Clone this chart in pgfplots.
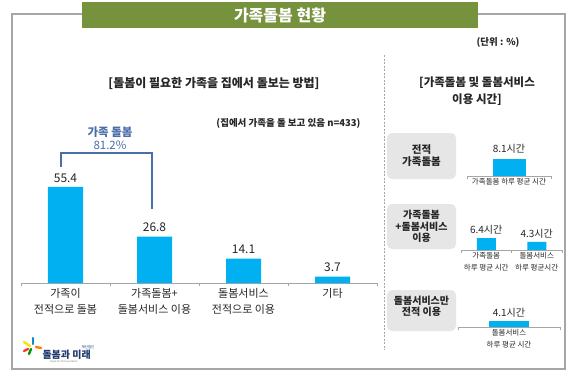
\documentclass[border=0pt]{standalone}
\usepackage{pgfplots}
\pgfplotsset{compat=1.18}
\usepackage{fontspec}
\setmainfont{Noto Sans CJK KR}
\definecolor{barblue}{HTML}{00B0F0}
\definecolor{olivegreen}{HTML}{76923C}
\definecolor{framegray}{HTML}{A6A6A6}
\definecolor{brk}{RGB}{74,110,168}
\definecolor{boxgray}{HTML}{E7E6E6}
\definecolor{txt}{HTML}{262626}
\definecolor{navy}{HTML}{1F3A6E}
\pgfplotsset{
  base/.style={scale only axis, anchor=south west, ybar, ymin=0,
    axis x line*=bottom, axis y line=none, axis line style={framegray, line width=0.8pt},
    major tick length=0pt, minor tick length=3pt, tick align=outside,
    minor x tick style={framegray, line width=0.8pt},
    clip=false, nodes near coords,
    /pgf/number format/fixed, /pgf/number format/precision=1,
    /pgf/number format/fixed zerofill, /pgf/number format/assume math mode=true},
  mini/.style={base, ymax=10,
    xticklabel style={align=center, font=\fontsize{7.5}{12}\selectfont, text=txt, yshift=1pt},
    nodes near coords={\pgfmathprintnumber{\pgfplotspointmeta}시간},
    every node near coord/.append style={font=\fontsize{10}{12}\selectfont, text=txt}}
}
\begin{document}
\begin{tikzpicture}[x=1pt,y=1pt]
\path[use as bounding box] (0,0) rectangle (567,376);
\fill[white] (0,0) rectangle (567,376);
\draw[framegray, line width=1.3pt] (12,362) rectangle (565,7);
\fill[olivegreen] (82,348) rectangle (478,374);
\node[text=white, font=\fontsize{16}{18}\selectfont\bfseries] at (280,361) {가족돌봄 현황};
\node[text=txt, font=\fontsize{9.5}{11}\selectfont\bfseries] at (498,334) {(단위 : \%)};
\draw[framegray, dash pattern=on 2pt off 1.5pt, line width=0.6pt] (384,321) -- (384,26);
% left panel
\node[text=txt, font=\fontsize{12}{14}\selectfont\bfseries] at (214,293) {[돌봄이 필요한 가족을 집에서 돌보는 방법]};
\node[text=txt, font=\fontsize{9.5}{11}\selectfont\bfseries, anchor=east] at (364,253) {(집에서 가족을 돌 보고 있음 n=433)};
\draw[brk, line width=1.5pt] (61,209) -- (61,223) -- (152,223) -- (152,167);
\node[text=brk, font=\fontsize{11.5}{14}\selectfont\bfseries] at (110,244) {가족 돌봄};
\node[text=brk, font=\fontsize{11.5}{14}\selectfont] at (110,231) {81.2\%};
\begin{axis}[base, at={(21pt,93pt)}, width=356pt, height=104pt, ymax=60,
  bar width=35pt, xmin=-0.5, xmax=3.5,
  xtick={0,1,2,3}, minor xtick={-0.5,0.5,1.5,2.5,3.5},
  xticklabels={{가족이\\전적으로 돌봄},{가족돌봄+\\돌봄서비스 이용},{돌봄서비스\\전적으로 이용},{기타}},
  xticklabel style={align=center, font=\fontsize{11}{16}\selectfont, text=txt, yshift=-2pt},
  every node near coord/.append style={font=\fontsize{12}{14}\selectfont, text=txt, yshift=1pt}]
\addplot[fill=barblue, draw=none] coordinates {(0,55.4) (1,26.8) (2,14.1) (3,3.7)};
\end{axis}
% right panel
\node[text=txt, font=\fontsize{11.5}{14}\selectfont\bfseries] at (477,293) {[가족돌봄 및 돌봄서비스};
\node[text=txt, font=\fontsize{11.5}{14}\selectfont\bfseries] at (477,276) {이용 시간]};
\fill[boxgray, rounded corners=5pt] (387,243) rectangle (456,197);
\fill[boxgray, rounded corners=5pt] (387,172) rectangle (456,127);
\fill[boxgray, rounded corners=5pt] (387,86) rectangle (456,45);
\node[text=txt, align=center, font=\fontsize{10.5}{12}\selectfont\bfseries] at (421.5,220) {전적\\가족돌봄};
\node[text=txt, align=center, font=\fontsize{10}{11.5}\selectfont\bfseries] at (421.5,149.5) {가족돌봄\\+돌봄서비스\\이용};
\node[text=txt, align=center, font=\fontsize{10}{11.5}\selectfont\bfseries] at (421.5,69.5) {돌봄서비스만\\전적 이용};
\begin{axis}[mini, at={(467pt,200pt)}, width=84pt, height=21pt, bar width=33pt,
  xmin=-0.5, xmax=0.5, xtick={0}, minor xtick={-0.5,0.5},
  xticklabels={{가족돌봄 하루 평균 시간}},
  every node near coord/.append style={yshift=2pt}]
\addplot[fill=barblue, draw=none] coordinates {(0,8.1)};
\end{axis}
\begin{axis}[mini, at={(461pt,126pt)}, width=101pt, height=18.75pt, bar width=19pt,
  xmin=-0.5, xmax=1.5, xtick={0,1}, minor xtick={-0.5,0.5,1.5},
  xticklabels={{가족돌봄\\하루 평균 시간},{돌봄서비스\\하루 평균시간}}]
\addplot[fill=barblue, draw=none] coordinates {(0,6.4) (1,4.3)};
\end{axis}
\begin{axis}[mini, at={(458pt,49pt)}, width=102pt, height=14.6pt, bar width=40pt,
  xmin=-0.5, xmax=0.5, xtick={0}, minor xtick={-0.5,0.5},
  xticklabels={{돌봄서비스\\하루 평균 시간}}]
\addplot[fill=barblue, draw=none] coordinates {(0,4.1)};
\end{axis}
% logo
\draw[line width=2.4pt, line cap=round, color=yellow!85!orange] (24,34) -- (30,30);
\draw[line width=2.4pt, line cap=round, color=cyan!70!blue] (33,38) -- (33,32);
\draw[line width=2.4pt, line cap=round, color=orange] (36,29) -- (41,28);
\draw[line width=2.4pt, line cap=round, color=green!60!black] (29,22) -- (31,27);
\draw[line width=2.4pt, line cap=round, color=red!80!white] (24,25) -- (28,27);
\node[text=navy, font=\fontsize{10}{12}\selectfont\bfseries, anchor=west] at (39,21) {돌봄과 미래};
\node[text=navy, font=\fontsize{3.5}{4}\selectfont] at (88,29) {재단법인};
\node[text=gray, font=\fontsize{2.5}{3}\selectfont] at (64,14) {Hope for All Foundation};
\end{tikzpicture}
\end{document}
